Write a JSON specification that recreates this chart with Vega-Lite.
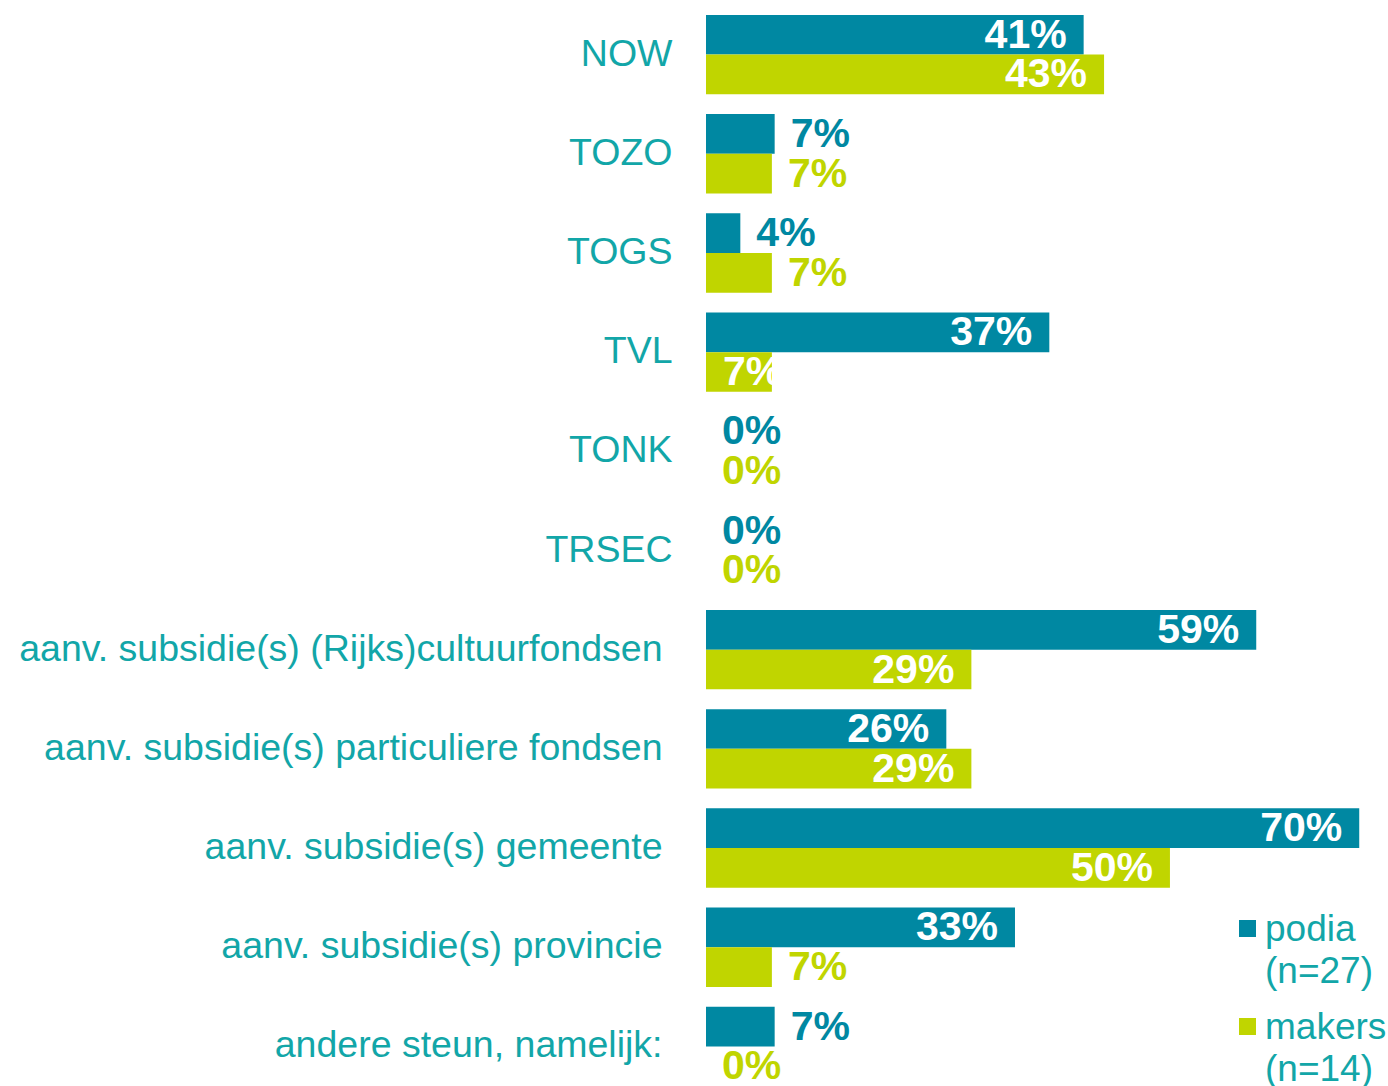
{
  "$schema": "https://vega.github.io/schema/vega-lite/v6.json",
  "autosize": "none",
  "padding": {"left": 706, "top": 5, "right": 0, "bottom": 0},
  "width": 682,
  "height": 1091,
  "background": "white",
  "config": {"view": {"stroke": null}},
  "data": {
    "values": [
      {"cat": "NOW", "group": "podia", "v": 0.407},
      {"cat": "NOW", "group": "makers", "v": 0.429},
      {"cat": "TOZO", "group": "podia", "v": 0.074},
      {"cat": "TOZO", "group": "makers", "v": 0.071},
      {"cat": "TOGS", "group": "podia", "v": 0.037},
      {"cat": "TOGS", "group": "makers", "v": 0.071},
      {"cat": "TVL", "group": "podia", "v": 0.370},
      {"cat": "TVL", "group": "makers", "v": 0.071},
      {"cat": "TONK", "group": "podia", "v": 0},
      {"cat": "TONK", "group": "makers", "v": 0},
      {"cat": "TRSEC", "group": "podia", "v": 0},
      {"cat": "TRSEC", "group": "makers", "v": 0},
      {"cat": "aanv. subsidie(s) (Rijks)cultuurfondsen", "group": "podia", "v": 0.593},
      {"cat": "aanv. subsidie(s) (Rijks)cultuurfondsen", "group": "makers", "v": 0.286},
      {"cat": "aanv. subsidie(s) particuliere fondsen", "group": "podia", "v": 0.259},
      {"cat": "aanv. subsidie(s) particuliere fondsen", "group": "makers", "v": 0.286},
      {"cat": "aanv. subsidie(s) gemeente", "group": "podia", "v": 0.704},
      {"cat": "aanv. subsidie(s) gemeente", "group": "makers", "v": 0.5},
      {"cat": "aanv. subsidie(s) provincie", "group": "podia", "v": 0.333},
      {"cat": "aanv. subsidie(s) provincie", "group": "makers", "v": 0.071},
      {"cat": "andere steun, namelijk:", "group": "podia", "v": 0.074},
      {"cat": "andere steun, namelijk:", "group": "makers", "v": 0}
    ]
  },
  "encoding": {
    "y": {
      "field": "cat", "type": "nominal", "sort": null,
      "scale": {"paddingInner": 0.2, "paddingOuter": 0.1},
      "axis": {
        "title": null, "domain": false, "ticks": false, "grid": false,
        "labelFont": "Liberation Sans", "labelFontSize": 37.5, "labelColor": "#12A6A8",
        "labelLimit": 0,
        "labelPadding": {"condition": {"test": "length(datum.label) > 10", "value": 44}, "value": 34}
      }
    },
    "yOffset": {"field": "group", "type": "nominal", "sort": ["podia", "makers"], "scale": {"paddingInner": 0, "paddingOuter": 0}},
    "x": {"field": "v", "type": "quantitative", "scale": {"domain": [0, 0.735]}, "axis": null}
  },
  "layer": [
    {
      "mark": {"type": "bar"},
      "encoding": {
        "color": {
          "field": "group", "type": "nominal",
          "scale": {"domain": ["podia", "makers"], "range": ["#0088A2", "#C0D500"]},
          "legend": {
            "title": null, "orient": "none", "legendX": 523, "legendY": 905,
            "symbolType": "square", "symbolSize": 289, "symbolStrokeWidth": 0,
            "labelFont": "Liberation Sans", "labelFontSize": 37, "labelColor": "#12A6A8",
            "labelBaseline": "alphabetic",
            "labelExpr": "datum.label == 'podia' ? ['podia', '(n=27)'] : ['makers', '(n=14)']",
            "rowPadding": 18, "labelOffset": -1,
            "encode": {"labels": {"update": {"lineHeight": {"value": 42}, "dy": {"value": 12}}}}
          }
        }
      }
    },
    {
      "transform": [{"filter": "datum.v >= 0.2"}],
      "mark": {"type": "text", "align": "right", "baseline": "middle", "dx": -17, "dy": 1, "font": "Liberation Sans", "fontWeight": "bold", "fontSize": 41, "color": "white"},
      "encoding": {"text": {"field": "v", "type": "quantitative", "format": ".0%"}}
    },
    {
      "transform": [{"filter": "datum.v < 0.2 && !(datum.cat == 'TVL' && datum.group == 'makers')"}],
      "mark": {"type": "text", "align": "left", "baseline": "middle", "dx": 16, "dy": 1, "font": "Liberation Sans", "fontWeight": "bold", "fontSize": 41},
      "encoding": {
        "text": {"field": "v", "type": "quantitative", "format": ".0%"},
        "color": {"field": "group", "type": "nominal", "legend": null}
      }
    },
    {
      "transform": [{"filter": "datum.cat == 'TVL' && datum.group == 'makers'"}],
      "mark": {"type": "text", "align": "left", "baseline": "middle", "dx": 17, "dy": 1, "font": "Liberation Sans", "fontWeight": "bold", "fontSize": 41, "color": "white"},
      "encoding": {
        "x": {"datum": 0},
        "text": {"field": "v", "type": "quantitative", "format": ".0%"}
      }
    }
  ]
}
